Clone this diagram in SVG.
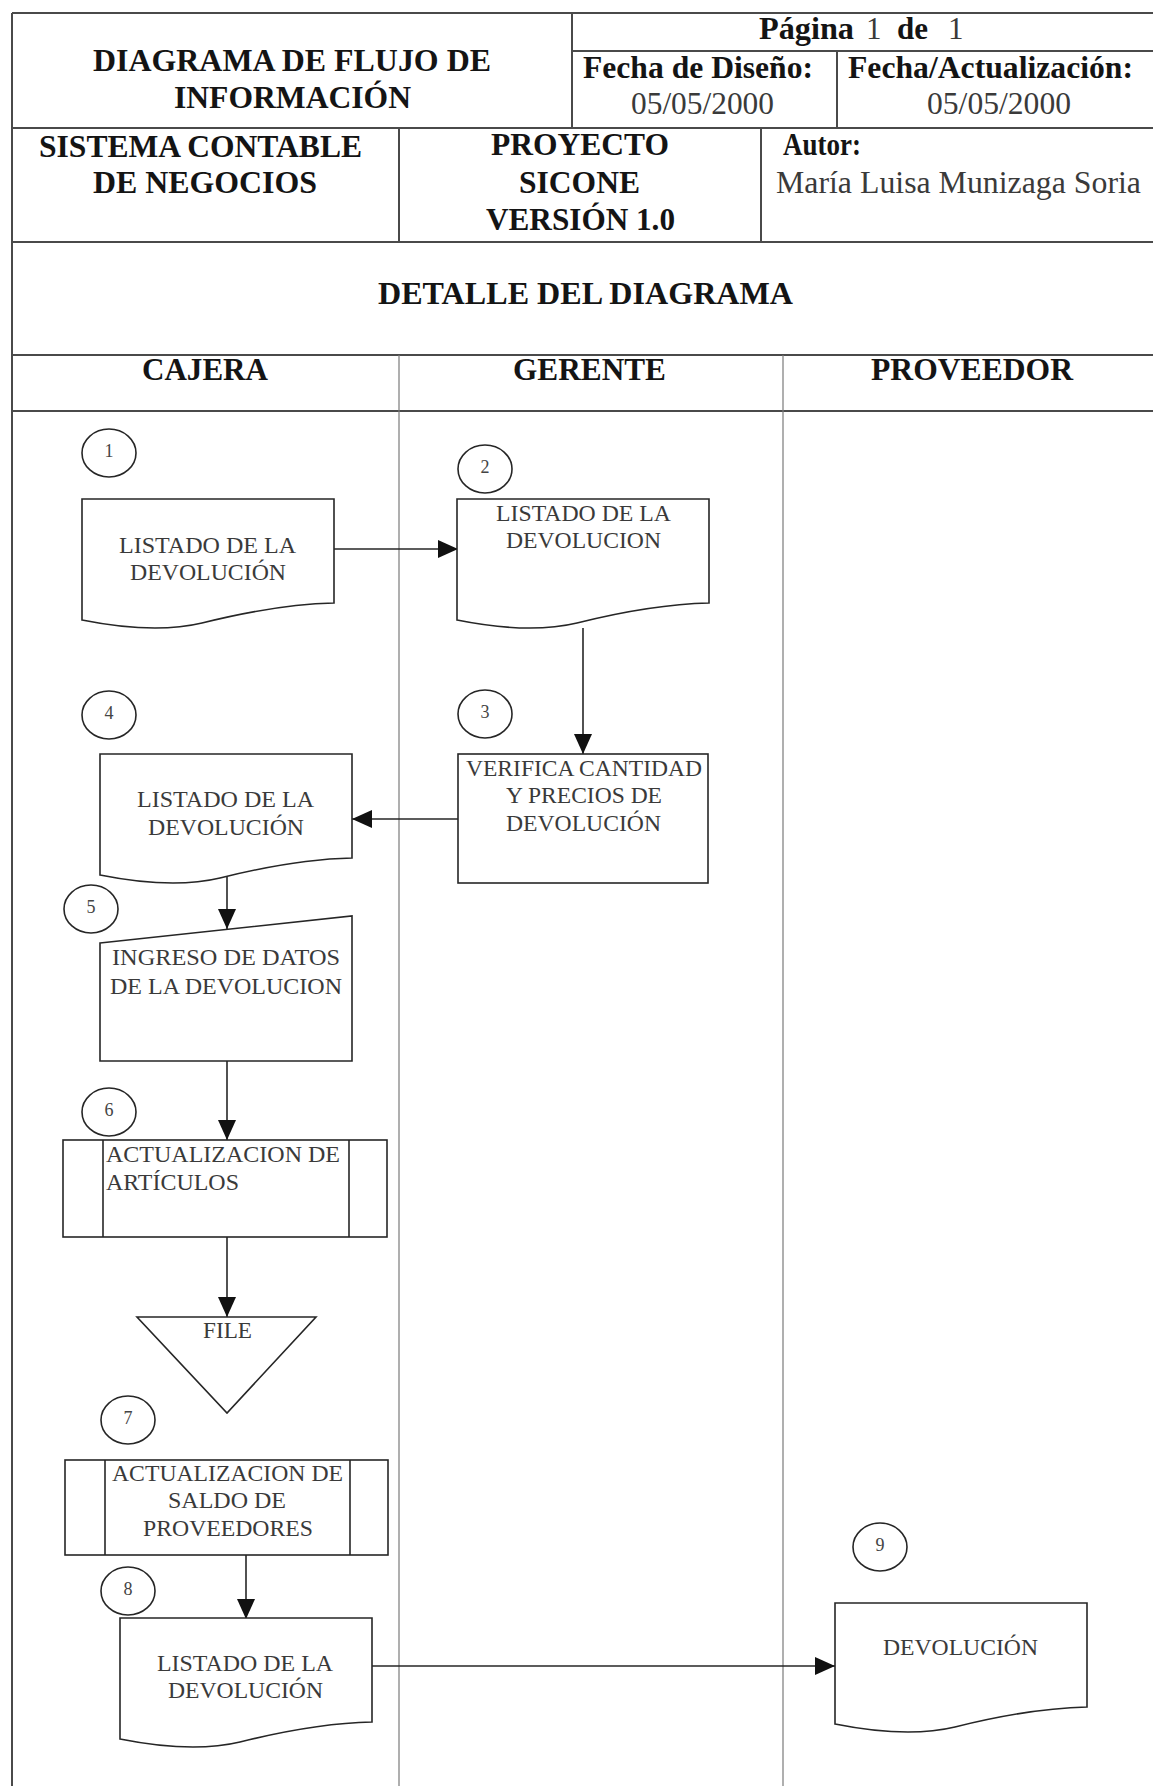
<svg xmlns="http://www.w3.org/2000/svg" xmlns:xlink="http://www.w3.org/1999/xlink" width="1153" height="1786" viewBox="0 0 1153 1786">
<style>
.bg{fill:#ffffff}
.hl{stroke:#4a4a4a;stroke-width:2;fill:none}
.ll{stroke:#7a7a7a;stroke-width:1.2;fill:none}
.sh{stroke:#262626;stroke-width:1.6;fill:#ffffff}
.cn{stroke:#262626;stroke-width:1.6;fill:none}
.hb{font-family:"Liberation Serif","Times New Roman",serif;font-weight:bold;font-size:31px;fill:#141414}
.hr{font-family:"Liberation Serif","Times New Roman",serif;font-size:31px;fill:#3a3a3a}
.nt{font-family:"Liberation Serif","Times New Roman",serif;font-size:24px;fill:#3a3a3a}
.num{font-family:"Liberation Serif","Times New Roman",serif;font-size:18px;fill:#444;text-anchor:middle}
</style>
<defs>
<marker id="ah" markerWidth="20" markerHeight="18" refX="20" refY="9" orient="auto" markerUnits="userSpaceOnUse">
<path d="M0,0 L20,9 L0,18 z" fill="#111"/>
</marker>
<path id="doc" d="M0,0 H252 V104 C206,105 160,114 120,124 C95,130 55,132 0,121 Z"/>
</defs>
<rect class="bg" x="0" y="0" width="1153" height="1786"/>

<g id="frame">
<line class="hl" x1="12" y1="13" x2="1153" y2="13"/>
<line class="hl" x1="12" y1="13" x2="12" y2="1786"/>
<line class="hl" x1="572" y1="13" x2="572" y2="128"/>
<line class="hl" x1="572" y1="51" x2="1153" y2="51"/>
<line class="hl" x1="837" y1="51" x2="837" y2="128"/>
<line class="hl" x1="12" y1="128" x2="1153" y2="128"/>
<line class="hl" x1="399" y1="128" x2="399" y2="242"/>
<line class="hl" x1="761" y1="128" x2="761" y2="242"/>
<line class="hl" x1="12" y1="242" x2="1153" y2="242"/>
<line class="hl" x1="12" y1="355" x2="1153" y2="355"/>
<line class="hl" x1="12" y1="411" x2="1153" y2="411"/>
<line class="ll" x1="399" y1="355" x2="399" y2="1786"/>
<line class="ll" x1="783" y1="355" x2="783" y2="1786"/>
</g>

<g id="header-text">
<text class="hb" x="93" y="71" textLength="398" lengthAdjust="spacingAndGlyphs">DIAGRAMA DE FLUJO DE</text>
<text class="hb" x="174" y="108" textLength="237" lengthAdjust="spacingAndGlyphs">INFORMACIÓN</text>
<text class="hb" x="759" y="39" textLength="95" lengthAdjust="spacingAndGlyphs">Página</text>
<text class="hr" x="866" y="39" fill="#141414">1</text>
<text class="hb" x="897" y="39">de</text>
<text class="hr" x="948" y="39" fill="#141414">1</text>
<text class="hb" x="583" y="78" textLength="230" lengthAdjust="spacingAndGlyphs">Fecha de Diseño:</text>
<text class="hr" x="631" y="114" textLength="143" lengthAdjust="spacingAndGlyphs">05/05/2000</text>
<text class="hb" x="848" y="78" textLength="285" lengthAdjust="spacingAndGlyphs">Fecha/Actualización:</text>
<text class="hr" x="927" y="114" textLength="144" lengthAdjust="spacingAndGlyphs">05/05/2000</text>
<text class="hb" x="39" y="157" textLength="323" lengthAdjust="spacingAndGlyphs">SISTEMA CONTABLE</text>
<text class="hb" x="93" y="193" textLength="224" lengthAdjust="spacingAndGlyphs">DE NEGOCIOS</text>
<text class="hb" x="491" y="155" textLength="178" lengthAdjust="spacingAndGlyphs">PROYECTO</text>
<text class="hb" x="519" y="193" textLength="121" lengthAdjust="spacingAndGlyphs">SICONE</text>
<text class="hb" x="486" y="230" textLength="189" lengthAdjust="spacingAndGlyphs">VERSIÓN 1.0</text>
<text class="hb" x="783" y="155" textLength="78" lengthAdjust="spacingAndGlyphs">Autor:</text>
<text class="hr" x="776" y="193" textLength="365" lengthAdjust="spacingAndGlyphs">María Luisa Munizaga Soria</text>
<text class="hb" x="378" y="304" textLength="415" lengthAdjust="spacingAndGlyphs">DETALLE DEL DIAGRAMA</text>
<text class="hb" x="142" y="380" textLength="126" lengthAdjust="spacingAndGlyphs">CAJERA</text>
<text class="hb" x="513" y="380" textLength="153" lengthAdjust="spacingAndGlyphs">GERENTE</text>
<text class="hb" x="871" y="380" textLength="202" lengthAdjust="spacingAndGlyphs">PROVEEDOR</text>
</g>

<g id="connectors">
<path class="cn" d="M333,549 H458" marker-end="url(#ah)"/>
<path class="cn" d="M583,628 V754" marker-end="url(#ah)"/>
<path class="cn" d="M458,819 H352" marker-end="url(#ah)"/>
<path class="cn" d="M227,877 V929" marker-end="url(#ah)"/>
<path class="cn" d="M227,1061 V1140" marker-end="url(#ah)"/>
<path class="cn" d="M227,1237 V1317" marker-end="url(#ah)"/>
<path class="cn" d="M246,1555 V1619" marker-end="url(#ah)"/>
<path class="cn" d="M372,1666 H835" marker-end="url(#ah)"/>
</g>

<g id="node1">
<ellipse class="sh" cx="109" cy="453" rx="27" ry="24"/>
<text class="num" x="109" y="457">1</text>
<use href="#doc" xlink:href="#doc" class="sh" x="82" y="499"/>
<text class="nt" x="119" y="553" textLength="177" lengthAdjust="spacingAndGlyphs">LISTADO DE LA</text>
<text class="nt" x="130" y="580" textLength="156" lengthAdjust="spacingAndGlyphs">DEVOLUCIÓN</text>
</g>

<g id="node2">
<ellipse class="sh" cx="485" cy="469" rx="27" ry="24"/>
<text class="num" x="485" y="473">2</text>
<use href="#doc" xlink:href="#doc" class="sh" x="457" y="499"/>
<text class="nt" x="496" y="521" textLength="175" lengthAdjust="spacingAndGlyphs">LISTADO DE LA</text>
<text class="nt" x="506" y="548" textLength="155" lengthAdjust="spacingAndGlyphs">DEVOLUCION</text>
</g>

<g id="node3">
<ellipse class="sh" cx="485" cy="714" rx="27" ry="24"/>
<text class="num" x="485" y="718">3</text>
<rect class="sh" x="458" y="754" width="250" height="129"/>
<text class="nt" x="466" y="776" textLength="236" lengthAdjust="spacingAndGlyphs">VERIFICA CANTIDAD</text>
<text class="nt" x="506" y="803" textLength="156" lengthAdjust="spacingAndGlyphs">Y PRECIOS DE</text>
<text class="nt" x="506" y="831" textLength="155" lengthAdjust="spacingAndGlyphs">DEVOLUCIÓN</text>
</g>

<g id="node4">
<ellipse class="sh" cx="109" cy="715" rx="27" ry="24"/>
<text class="num" x="109" y="719">4</text>
<use href="#doc" xlink:href="#doc" class="sh" x="100" y="754"/>
<text class="nt" x="137" y="807" textLength="177" lengthAdjust="spacingAndGlyphs">LISTADO DE LA</text>
<text class="nt" x="148" y="835" textLength="156" lengthAdjust="spacingAndGlyphs">DEVOLUCIÓN</text>
</g>

<g id="node5">
<ellipse class="sh" cx="91" cy="909" rx="27" ry="24"/>
<text class="num" x="91" y="913">5</text>
<polygon class="sh" points="100,943 352,916 352,1061 100,1061"/>
<text class="nt" x="112" y="965" textLength="228" lengthAdjust="spacingAndGlyphs">INGRESO DE DATOS</text>
<text class="nt" x="110" y="994" textLength="232" lengthAdjust="spacingAndGlyphs">DE LA DEVOLUCION</text>
</g>

<g id="node6">
<ellipse class="sh" cx="109" cy="1112" rx="27" ry="24"/>
<text class="num" x="109" y="1116">6</text>
<rect class="sh" x="63" y="1140" width="324" height="97"/>
<line class="cn" x1="103" y1="1140" x2="103" y2="1237"/>
<line class="cn" x1="349" y1="1140" x2="349" y2="1237"/>
<text class="nt" x="106" y="1162" textLength="234" lengthAdjust="spacingAndGlyphs">ACTUALIZACION DE</text>
<text class="nt" x="106" y="1190" textLength="133" lengthAdjust="spacingAndGlyphs">ARTÍCULOS</text>
</g>

<g id="file">
<polygon class="sh" points="137,1317 316,1317 227,1413"/>
<text class="nt" x="203" y="1338" textLength="49" lengthAdjust="spacingAndGlyphs">FILE</text>
</g>

<g id="node7">
<ellipse class="sh" cx="128" cy="1420" rx="27" ry="24"/>
<text class="num" x="128" y="1424">7</text>
<rect class="sh" x="65" y="1460" width="323" height="95"/>
<line class="cn" x1="105" y1="1460" x2="105" y2="1555"/>
<line class="cn" x1="350" y1="1460" x2="350" y2="1555"/>
<text class="nt" x="112" y="1481" textLength="231" lengthAdjust="spacingAndGlyphs">ACTUALIZACION DE</text>
<text class="nt" x="168" y="1508" textLength="118" lengthAdjust="spacingAndGlyphs">SALDO DE</text>
<text class="nt" x="143" y="1536" textLength="170" lengthAdjust="spacingAndGlyphs">PROVEEDORES</text>
</g>

<g id="node8">
<ellipse class="sh" cx="128" cy="1591" rx="27" ry="24"/>
<text class="num" x="128" y="1595">8</text>
<use href="#doc" xlink:href="#doc" class="sh" x="120" y="1618"/>
<text class="nt" x="157" y="1671" textLength="176" lengthAdjust="spacingAndGlyphs">LISTADO DE LA</text>
<text class="nt" x="168" y="1698" textLength="155" lengthAdjust="spacingAndGlyphs">DEVOLUCIÓN</text>
</g>

<g id="node9">
<ellipse class="sh" cx="880" cy="1547" rx="27" ry="24"/>
<text class="num" x="880" y="1551">9</text>
<use href="#doc" xlink:href="#doc" class="sh" x="835" y="1603"/>
<text class="nt" x="883" y="1655" textLength="155" lengthAdjust="spacingAndGlyphs">DEVOLUCIÓN</text>
</g>
</svg>
